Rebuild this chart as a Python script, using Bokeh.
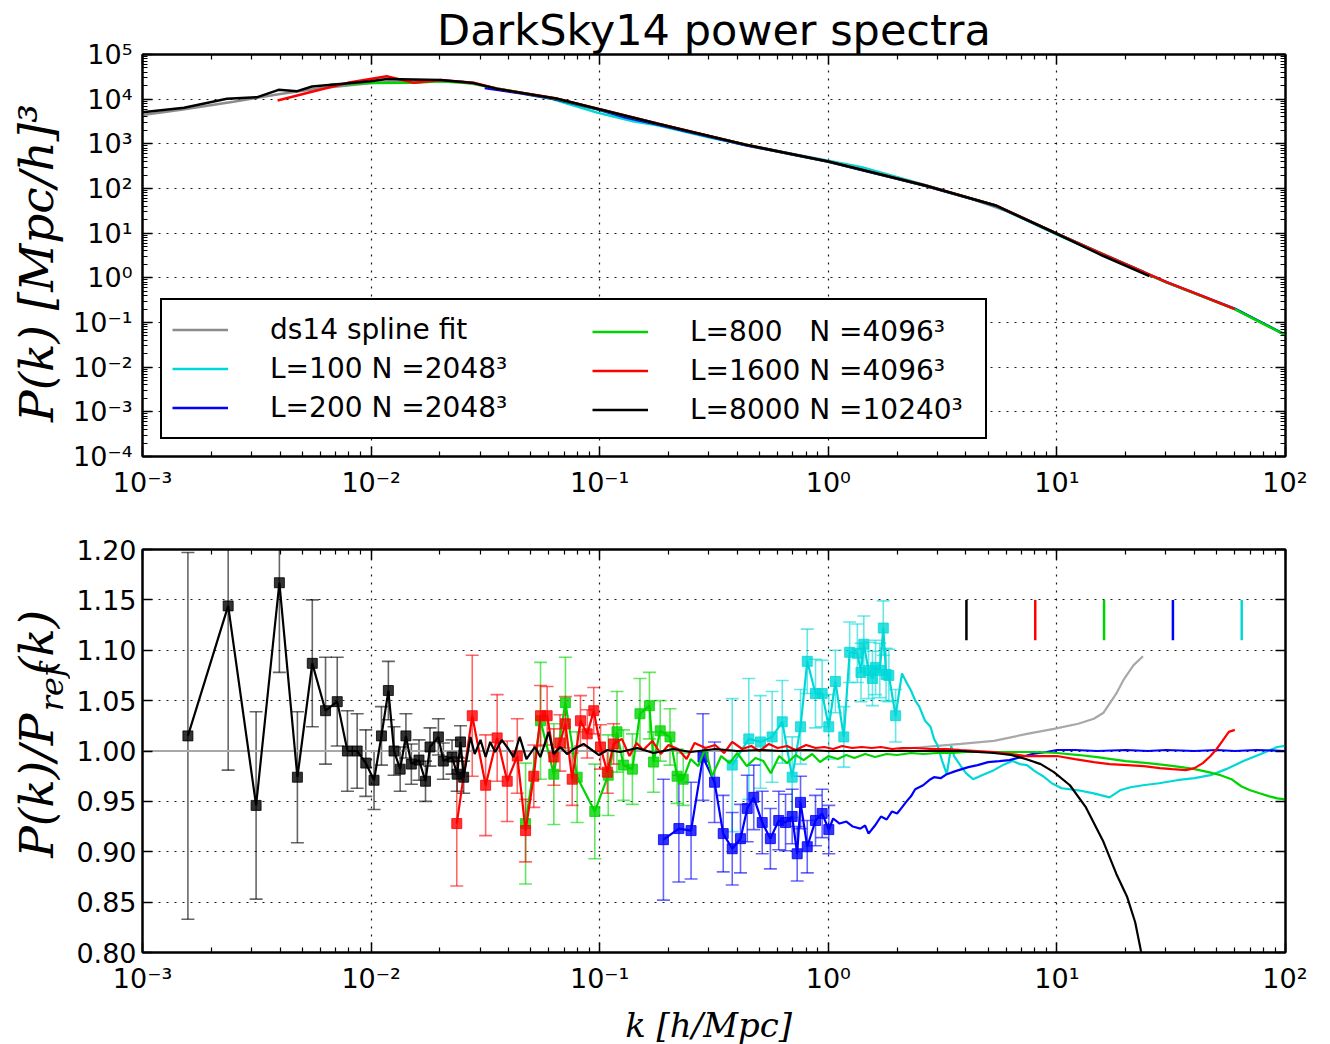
from math import pi
from bokeh.plotting import figure
from bokeh.layouts import column, row
from bokeh.core.properties import value
from bokeh.models import (FixedTicker, LogAxis, LinearAxis, CustomJSTickFormatter,
                          PrintfTickFormatter, Legend, LegendItem, Whisker, TeeHead,
                          ColumnDataSource, Range1d)
from bokeh.embed import file_html
from bokeh.resources import INLINE

# ------------------------------------------------------------------ top panel data (k [h/Mpc], P(k))
gry_k_top = [0.001, 0.0015, 0.0025, 0.004, 0.006, 0.01, 0.016, 0.025, 0.04, 0.063, 0.1, 0.16, 0.25,
             0.4, 0.63, 1.0, 1.6, 2.5, 4.0, 6.3, 10, 16, 24]
gry_P_top = [4400, 5900, 8800, 13000, 17500, 23000, 26000, 24500, 15500, 10500, 6000, 3300, 1850,
             1060, 650, 405, 225, 125, 65, 29, 9.7, 3.4, 1.35]

cyn_k_top = [0.063, 0.0975, 0.14, 0.179, 0.3, 0.435, 1.0, 1.4, 2.65, 5.4, 10, 15.8, 30.2, 60, 100]
cyn_P_top = [9800, 5000, 3200, 2600, 1400, 940, 420, 300, 120, 40.5, 9.3, 3.3, 0.78, 0.20, 0.053]

blu_k_top = [0.0314, 0.045, 0.0652, 0.0975, 0.13, 0.179, 0.435, 1.0, 2.65, 5.4, 10, 15.8, 30.2, 60, 100]
blu_P_top = [17800, 13500, 9700, 5900, 3900, 2700, 930, 395, 115, 41, 9.7, 3.4, 0.80, 0.205, 0.053]

grn_k_top = [0.0066, 0.0099, 0.0154, 0.0201, 0.0281, 0.0356, 0.0652, 0.0975, 0.179, 0.435, 1.0, 2.65,
             5.4, 10, 15.8, 30.2, 60, 100]
grn_P_top = [20900, 22900, 23400, 25100, 22400, 17400, 10000, 6000, 2800, 950, 400, 117,
             41.5, 9.7, 3.4, 0.79, 0.20, 0.052]

red_k_top = [0.0039, 0.0054, 0.0079, 0.0117, 0.0154, 0.0201, 0.0281, 0.0356, 0.0652, 0.0975, 0.179,
             0.435, 1.0, 2.65, 5.4, 10, 15.8, 30.2, 45, 60]
red_P_top = [9300, 14300, 23200, 32700, 23200, 26900, 23400, 17200, 10300, 6150, 2850,
             960, 405, 118, 42, 9.8, 3.4, 0.80, 0.36, 0.20]

blk_k_top = [0.001, 0.00152, 0.00234, 0.00318, 0.00394, 0.00475, 0.00552, 0.00993, 0.01175, 0.0201,
             0.0281, 0.0356, 0.0652, 0.0975, 0.179, 0.435, 1.0, 2.65, 5.4, 10, 15.8, 25.4]
blk_P_top = [5100, 6400, 10200, 11100, 16200, 15100, 19200, 25100, 28200, 26900,
             22900, 17000, 10200, 6080, 2810, 950, 403, 117, 41.7, 9.7, 3.16, 1.09]

# ------------------------------------------------------------------ bottom panel data (ratio P/P_ref)
# gray: spline fit
gry_k = [0.001, 2.0, 2.1, 3.0, 3.8, 5.3, 7.4, 9.7, 12.4, 14.5, 16.0, 17.0, 18.3, 19.5, 21.6, 23.8]
gry_r = [1.000, 1.000, 1.002, 1.005, 1.007, 1.010, 1.017, 1.022, 1.027, 1.032, 1.038, 1.047, 1.058,
         1.070, 1.085, 1.094]

# black: L=8000 (binned points with errors, then line)
blk_ek = [0.00158, 0.00237, 0.00314, 0.00397, 0.00476, 0.00553, 0.00632, 0.00711, 0.00788, 0.00869,
          0.00948, 0.0103, 0.0111, 0.0119, 0.0126, 0.0134, 0.0142, 0.0150, 0.0162, 0.0173, 0.0181,
          0.0197, 0.0207, 0.0226, 0.0238, 0.0246, 0.0254]
blk_er = [1.015, 1.144, 0.946, 1.167, 0.974, 1.087, 1.040, 1.049, 1.000, 1.000, 0.988, 0.971, 1.015,
          1.060, 1.000, 0.982, 1.015, 0.987, 0.991, 0.970, 1.004, 1.014, 0.990, 0.994, 0.977, 1.009,
          0.974]
blk_ee = [0.182, 0.163, 0.093, 0.089, 0.065, 0.063, 0.053, 0.044, 0.040, 0.037, 0.033, 0.029, 0.029,
          0.029, 0.024, 0.022, 0.022, 0.020, 0.020, 0.020, 0.019, 0.018, 0.018, 0.017, 0.017, 0.016,
          0.016]
blk_tk = [0.0272, 0.0284, 0.0301, 0.0317, 0.0332, 0.0349, 0.0373, 0.0399, 0.0420, 0.0447, 0.0478,
          0.0521, 0.0550, 0.0598, 0.0629, 0.0672, 0.0720, 0.0770, 0.0850, 0.0912, 0.0993, 0.108,
          0.123, 0.146, 0.172, 0.21, 0.25, 0.32, 0.4, 0.5, 0.63, 0.8, 1.0, 1.3, 1.6, 2.0, 2.5, 3.1,
          3.8, 4.5, 5.3, 6.3, 7.3, 8.5, 9.7, 11.4, 13.4, 15.9, 18.2, 20.3, 22.0, 23.3, 25.0]
blk_tr = [1.014, 0.997, 1.011, 0.994, 1.009, 0.999, 1.011, 1.002, 0.994, 1.014, 0.992,
          1.004, 0.994, 1.019, 0.997, 1.004, 0.997, 1.002, 1.007, 1.002, 0.996, 1.001,
          0.999, 1.003, 0.998, 1.002, 0.999, 1.002, 1.000, 1.001, 1.000, 1.001, 1.000, 1.000,
          1.000, 1.000, 1.000, 1.000, 1.000, 0.999, 0.998, 0.996, 0.992, 0.987, 0.979, 0.966,
          0.944, 0.911, 0.878, 0.855, 0.830, 0.802, 0.770]

# red: L=1600
red_ek = [0.0237, 0.0277, 0.0317, 0.0356, 0.0394, 0.0436, 0.0474, 0.0515, 0.0551, 0.0589, 0.0630,
          0.0670, 0.0708, 0.0758, 0.0824, 0.0882, 0.0942, 0.1008, 0.108, 0.115]
red_er = [0.928, 1.035, 0.966, 1.013, 0.970, 0.995, 0.921, 0.975, 1.035, 1.035, 0.994, 1.008, 1.027,
          0.972, 1.030, 1.017, 1.040, 1.004, 0.979, 1.007]
red_ee = [0.062, 0.060, 0.050, 0.043, 0.040, 0.037, 0.031, 0.031, 0.030, 0.029, 0.028, 0.028, 0.027,
          0.026, 0.025, 0.024, 0.023, 0.022, 0.021, 0.020]
red_tk = [0.125, 0.135, 0.145, 0.155, 0.17, 0.185, 0.2, 0.22, 0.24, 0.26, 0.29, 0.32, 0.35, 0.38,
          0.42, 0.46, 0.5, 0.55, 0.6, 0.66, 0.72, 0.8, 0.88, 0.96, 1.05, 1.15, 1.27, 1.4, 1.55, 1.7,
          1.9, 2.1, 2.4, 2.8, 3.3, 3.8, 4.5, 5.3, 6.3, 7.3, 8.5, 10, 12, 14.5, 17, 20.3, 24, 28.2,
          32, 36.6, 40, 43.5, 47, 50, 53, 56.5, 60]
red_tr = [1.012, 0.995, 1.008, 1.001, 1.010, 0.997, 1.006, 1.002, 0.992, 1.008, 1.003, 1.006, 0.998,
          1.009, 1.002, 1.005, 1.000, 1.007, 1.003, 1.005, 1.001, 1.006, 1.003, 1.004, 1.002, 1.005,
          1.003, 1.004, 1.003, 1.004, 1.002, 1.003, 1.003, 1.002, 1.002, 1.001, 1.000, 0.999, 0.997,
          0.995, 0.995, 0.995, 0.992, 0.989, 0.987, 0.986, 0.985, 0.983, 0.982, 0.981, 0.983, 0.988,
          0.995, 1.002, 1.010, 1.019, 1.021]

# green: L=800
grn_ek = [0.0474, 0.0551, 0.0630, 0.0708, 0.0797, 0.0952, 0.109, 0.119, 0.127, 0.139, 0.150, 0.165,
          0.172, 0.184, 0.203, 0.218, 0.232]
grn_er = [0.928, 1.030, 0.977, 1.048, 0.974, 0.940, 0.976, 1.019, 0.986, 0.982, 1.037, 1.045, 0.989,
          1.020, 1.014, 0.975, 0.972]
grn_ee = [0.060, 0.058, 0.050, 0.045, 0.045, 0.047, 0.040, 0.040, 0.035, 0.035, 0.035, 0.033, 0.030,
          0.030, 0.028, 0.027, 0.026]
grn_tk = [0.25, 0.27, 0.29, 0.31, 0.34, 0.37, 0.40, 0.44, 0.48, 0.52, 0.56, 0.61, 0.66, 0.72, 0.78,
          0.85, 0.92, 1.0, 1.1, 1.2, 1.3, 1.45, 1.6, 1.8, 2.0, 2.3, 2.6, 3.0, 3.5, 4.0, 5, 6.3, 8, 10,
          12.5, 15, 20, 25, 30, 35, 40, 46, 52, 58, 64, 70, 77, 85, 92, 100]
grn_tr = [0.992, 0.985, 1.003, 0.975, 0.995, 0.988, 0.998, 0.985, 0.993, 0.990, 0.978, 0.995, 0.988,
          0.996, 0.991, 0.997, 0.989, 0.995, 0.992, 0.996, 0.993, 0.997, 0.994, 0.997, 0.996, 0.998,
          0.997, 0.998, 0.998, 0.999, 0.999, 0.999, 0.999, 0.998, 0.996, 0.994, 0.990, 0.988, 0.986,
          0.984, 0.982, 0.979, 0.976, 0.972, 0.965, 0.961, 0.958, 0.955, 0.953, 0.952]

# blue: L=200
blu_ek = [0.190, 0.222, 0.251, 0.283, 0.318, 0.347, 0.380, 0.413, 0.442, 0.472, 0.514, 0.558, 0.607,
          0.650, 0.695, 0.731, 0.756, 0.809, 0.879, 0.940, 1.005]
blu_er = [0.912, 0.923, 0.921, 0.994, 0.969, 0.918, 0.903, 0.913, 0.943, 0.954, 0.929, 0.913, 0.931,
          0.929, 0.935, 0.898, 0.949, 0.905, 0.931, 0.938, 0.922]
blu_ee = [0.060, 0.053, 0.048, 0.043, 0.040, 0.038, 0.036, 0.034, 0.033, 0.032, 0.031, 0.030, 0.029,
          0.028, 0.027, 0.027, 0.026, 0.026, 0.025, 0.024, 0.024]
blu_tk = [1.05, 1.12, 1.2, 1.28, 1.38, 1.45, 1.5, 1.6, 1.7, 1.8, 1.9, 2.0, 2.1, 2.2, 2.3, 2.4, 2.6,
          2.8, 2.9, 3.1, 3.3, 3.6, 4.1, 4.5, 5.0, 5.6, 6.2, 7.0, 7.8, 9, 10, 12, 15, 20, 25, 30, 40,
          50, 60, 75, 100]
blu_tr = [0.933, 0.928, 0.930, 0.925, 0.923, 0.926, 0.918, 0.926, 0.935, 0.932, 0.940, 0.938, 0.944,
          0.950, 0.955, 0.962, 0.966, 0.972, 0.974, 0.973, 0.977, 0.980, 0.984, 0.986, 0.989, 0.990,
          0.991, 0.994, 0.997, 0.999, 1.001, 1.001, 1.000, 1.001, 1.000, 1.001, 1.000, 1.001, 1.000,
          1.001, 1.000]

# cyan: L=100
cyn_ek = [0.380, 0.449, 0.505, 0.568, 0.629, 0.695, 0.756, 0.809, 0.879, 0.940, 1.005, 1.074, 1.169,
          1.24, 1.34, 1.39, 1.43, 1.50, 1.56, 1.61, 1.68, 1.74, 1.79, 1.84, 1.97]
cyn_er = [0.986, 1.012, 1.009, 1.014, 1.029, 0.974, 1.024, 1.089, 1.057, 1.057, 1.024, 1.069, 1.014,
          1.098, 1.097, 1.078, 1.106, 1.080, 1.072, 1.083, 1.080, 1.122, 1.076, 1.075, 1.035]
cyn_ee = [0.066, 0.060, 0.046, 0.045, 0.041, 0.040, 0.037, 0.032, 0.034, 0.033, 0.032, 0.031, 0.030,
          0.030, 0.029, 0.029, 0.028, 0.028, 0.027, 0.027, 0.027, 0.027, 0.026, 0.026, 0.026]
cyn_tk = [2.1, 2.2, 2.3, 2.4, 2.5, 2.65, 2.8, 2.9, 3.0, 3.15, 3.3, 3.45, 3.55, 3.8, 4.0, 4.3, 4.7,
          5.3, 5.8, 6.4, 6.9, 7.4, 8.0, 8.7, 9.5, 10.5, 12.4, 14.5, 17, 18.9, 21, 23.8, 28, 33.5, 40,
          47, 55, 65.5, 78, 92, 100]
cyn_tr = [1.077, 1.068, 1.060, 1.050, 1.044, 1.030, 1.024, 1.012, 1.006, 0.990, 0.977, 1.005, 0.995,
          0.985, 0.978, 0.972, 0.976, 0.981, 0.986, 0.990, 0.987, 0.986, 0.980, 0.975, 0.968, 0.963,
          0.961, 0.958, 0.954, 0.961, 0.964, 0.966, 0.968, 0.971, 0.973, 0.976, 0.982, 0.990, 0.997,
          1.004, 1.005]

# Nyquist markers (k_Nyq for each run)
kny_k = [4.02, 8.04, 16.08, 32.17, 64.34]

legend_labels = ["ds14 spline fit", "L=100 N =2048³", "L=200 N =2048³",
                 "L=800   N =4096³", "L=1600 N =4096³", "L=8000 N =10240³"]

x_major = [1e-3, 1e-2, 1e-1, 1e0, 1e1, 1e2]
y_major_top = [10.0 ** e for e in range(-4, 6)]
y_ticks_bot = [0.80, 0.85, 0.90, 0.95, 1.00, 1.05, 1.10, 1.15, 1.20]

# ------------------------------------------------------------------ styling
GRAY, CYAN, BLUE, GREEN, RED, BLACK = "#8c8c8c", "#00d8d8", "#0000ff", "#00d400", "#ff0000", "#000000"
FONT = "DejaVu Sans"
SERIF = "DejaVu Serif"

def minor_of(majors):
    out = []
    for m in majors[:-1]:
        out += [m * j for j in range(2, 10)]
    return out

log_fmt_code = """
const e = Math.round(Math.log10(tick));
const m = {'-':'⁻','0':'⁰','1':'¹','2':'²','3':'³','4':'⁴','5':'⁵','6':'⁶','7':'⁷','8':'⁸','9':'⁹'};
return '10' + String(e).split('').map(c => m[c]).join('');
"""

def log_fmt():
    return CustomJSTickFormatter(code=log_fmt_code)

def blank_fmt():
    return CustomJSTickFormatter(code="return ''")

def style_axis(ax, labels=True):
    ax.axis_line_width = 2
    ax.axis_line_color = "black"
    ax.major_tick_in = 10
    ax.major_tick_out = 0
    ax.minor_tick_in = 5
    ax.minor_tick_out = 0
    ax.major_tick_line_width = 1.5
    ax.minor_tick_line_width = 1.2
    ax.major_tick_line_color = "black"
    ax.minor_tick_line_color = "black"
    ax.major_label_text_font = FONT
    ax.major_label_text_color = "black"
    ax.axis_label_text_color = "black"
    if labels:
        ax.major_label_text_font_size = "27px"
    else:
        ax.major_label_text_font_size = "0px"
        ax.major_label_standoff = 0

def style_fig(p):
    p.outline_line_color = "black"
    p.outline_line_width = 2
    p.background_fill_color = "white"
    p.border_fill_color = "white"
    for g in (p.xgrid[0], p.ygrid[0]):
        g.grid_line_color = "black"
        g.grid_line_dash = "2 6"
        g.grid_line_width = 1.2
        g.grid_line_alpha = 0.9

xt = FixedTicker(ticks=x_major, minor_ticks=minor_of(x_major))

FW = 1143          # frame width
LEFT = 142         # left border (frame left edge on the page)
RIGHT = 22

# ------------------------------------------------------------------ top figure
p1 = figure(frame_width=FW, frame_height=402, x_axis_type="log", y_axis_type="log",
            x_range=Range1d(1e-3, 1e2), y_range=Range1d(1e-4, 1e5),
            output_backend="svg", toolbar_location=None,
            min_border_left=LEFT, min_border_right=RIGHT, min_border_top=54, min_border_bottom=48)
p1.title.text = "DarkSky14 power spectra"
p1.title.align = "center"
p1.title.text_font = FONT
p1.title.text_font_size = "43px"
p1.title.text_font_style = "normal"
p1.title.text_color = "black"
p1.title.standoff = 0

yt1 = FixedTicker(ticks=y_major_top, minor_ticks=minor_of(y_major_top))
p1.xaxis.ticker = xt
p1.yaxis.ticker = yt1
p1.xgrid.ticker = xt
p1.ygrid.ticker = yt1
p1.xaxis.formatter = log_fmt()
p1.yaxis.formatter = log_fmt()
for ax in p1.xaxis:
    style_axis(ax)
    ax.major_label_standoff = 10
for ax in p1.yaxis:
    style_axis(ax)
    ax.major_label_standoff = 10
    ax.axis_label = "P(k)  [Mpc/h]³"
    ax.axis_label_text_font = SERIF
    ax.axis_label_text_font_style = "italic"
    ax.axis_label_text_font_size = "47px"
    ax.axis_label_standoff = 6
ax_top1 = LogAxis(ticker=xt, formatter=blank_fmt())
style_axis(ax_top1, labels=False)
p1.add_layout(ax_top1, "above")
ax_right1 = LogAxis(ticker=yt1, formatter=blank_fmt())
style_axis(ax_right1, labels=False)
p1.add_layout(ax_right1, "right")
style_fig(p1)

r_gray = p1.line(gry_k_top, gry_P_top, line_color=GRAY, line_width=2.5)
r_cyan = p1.line(cyn_k_top, cyn_P_top, line_color=CYAN, line_width=2.5)
r_blue = p1.line(blu_k_top, blu_P_top, line_color=BLUE, line_width=2.5)
r_green = p1.line(grn_k_top, grn_P_top, line_color=GREEN, line_width=2.5)
r_red = p1.line(red_k_top, red_P_top, line_color=RED, line_width=2.5)
r_black = p1.line(blk_k_top, blk_P_top, line_color=BLACK, line_width=2.5)

def make_legend(items, loc, boxed):
    lg = Legend(items=items, location=loc, padding=10, spacing=0, margin=0,
                glyph_width=56, glyph_height=39, label_height=39, label_standoff=42,
                label_text_font=FONT, label_text_font_size="28px", label_text_color="black")
    if boxed:
        lg.border_line_color = "black"
        lg.border_line_width = 2
        lg.border_line_alpha = 1.0
        lg.background_fill_color = "white"
        lg.background_fill_alpha = 1.0
        lg.label_width = 705
    else:
        lg.border_line_alpha = 0
        lg.background_fill_alpha = 0
    return lg

leg1 = make_legend([LegendItem(label=legend_labels[0], renderers=[r_gray]),
                    LegendItem(label=legend_labels[1], renderers=[r_cyan]),
                    LegendItem(label=legend_labels[2], renderers=[r_blue])], (18, 17), True)
leg2 = make_legend([LegendItem(label=legend_labels[3], renderers=[r_green]),
                    LegendItem(label=legend_labels[4], renderers=[r_red]),
                    LegendItem(label=legend_labels[5], renderers=[r_black])], (440, 17), False)
p1.add_layout(leg1)
p1.add_layout(leg2)

# ------------------------------------------------------------------ bottom figure
LABW = 70          # width of the strip that holds the rotated y label
B_TOP, B_FH, B_BOT = 45, 403, 88
H2 = B_TOP + B_FH + B_BOT

p2 = figure(frame_width=FW, frame_height=B_FH, x_axis_type="log",
            x_range=Range1d(1e-3, 1e2), y_range=Range1d(0.8, 1.2),
            output_backend="svg", toolbar_location=None,
            min_border_left=LEFT - LABW, min_border_right=RIGHT,
            min_border_top=B_TOP, min_border_bottom=B_BOT)
yt2 = FixedTicker(ticks=y_ticks_bot)
p2.xaxis.ticker = xt
p2.yaxis.ticker = yt2
p2.xgrid.ticker = xt
p2.ygrid.ticker = yt2
p2.xaxis.formatter = log_fmt()
p2.yaxis.formatter = PrintfTickFormatter(format="%.2f")
for ax in p2.xaxis:
    style_axis(ax)
    ax.major_label_standoff = 10
    ax.axis_label = "k  [h/Mpc]"
    ax.axis_label_text_font = SERIF
    ax.axis_label_text_font_style = "italic"
    ax.axis_label_text_font_size = "34px"
    ax.axis_label_standoff = 8
for ax in p2.yaxis:
    style_axis(ax)
    ax.major_label_standoff = 6
ax_top2 = LogAxis(ticker=xt, formatter=blank_fmt())
style_axis(ax_top2, labels=False)
p2.add_layout(ax_top2, "above")
ax_right2 = LinearAxis(ticker=yt2, formatter=blank_fmt())
style_axis(ax_right2, labels=False)
p2.add_layout(ax_right2, "right")
style_fig(p2)

def series(p, color, ek, er, ee, tk, tr, lw=2.2):
    up = [r + e for r, e in zip(er, ee)]
    lo = [r - e for r, e in zip(er, ee)]
    src = ColumnDataSource(dict(k=ek, r=er, up=up, lo=lo))
    p.add_layout(Whisker(source=src, base="k", upper="up", lower="lo", dimension="height",
                         line_color=color, line_alpha=0.6, line_width=1.6,
                         upper_head=TeeHead(size=13, line_color=color, line_alpha=0.6, line_width=1.6),
                         lower_head=TeeHead(size=13, line_color=color, line_alpha=0.6, line_width=1.6)))
    p.line(list(ek) + list(tk), list(er) + list(tr), line_color=color, line_width=lw)
    p.scatter("k", "r", source=src, marker="square", size=10, fill_color=color, line_color=color,
              fill_alpha=0.8, line_alpha=0.8)

p2.line(gry_k, gry_r, line_color="#a8a8a8", line_width=2.2)
series(p2, CYAN, cyn_ek, cyn_er, cyn_ee, cyn_tk, cyn_tr)
series(p2, BLUE, blu_ek, blu_er, blu_ee, blu_tk, blu_tr)
series(p2, GREEN, grn_ek, grn_er, grn_ee, grn_tk, grn_tr)
series(p2, RED, red_ek, red_er, red_ee, red_tk, red_tr)
series(p2, BLACK, blk_ek, blk_er, blk_ee, blk_tk, blk_tr)

p2.segment(x0="k", y0=1.11, x1="k", y1=1.15, line_color="c", line_width=2.5,
           source=ColumnDataSource(dict(k=kny_k, c=[BLACK, RED, GREEN, BLUE, CYAN])))

# strip to the left of the bottom panel holding the rotated label P(k)/P_ref(k)
lab = figure(width=LABW, height=H2, x_range=Range1d(0, LABW), y_range=Range1d(0, H2),
             x_axis_location=None, y_axis_location=None, min_border=0,
             output_backend="svg", toolbar_location=None)
lab.outline_line_color = None
lab.grid.visible = False
lab.text(x=[36], y=[314], text=["P(k)/P"], angle=pi / 2, text_align="right",
         text_baseline="middle", text_font=value(SERIF), text_font_style="italic",
         text_font_size="47px", text_color="black")
lab.text(x=[51], y=[317], text=["ref"], angle=pi / 2, text_align="left",
         text_baseline="middle", text_font=value(SERIF), text_font_style="italic",
         text_font_size="32px", text_color="black")
lab.text(x=[36], y=[366], text=["(k)"], angle=pi / 2, text_align="left",
         text_baseline="middle", text_font=value(SERIF), text_font_style="italic",
         text_font_size="47px", text_color="black")

layout = column(p1, row(lab, p2, spacing=0), spacing=0)
open("out.html", "w").write(file_html(layout, INLINE, title="DarkSky14 power spectra"))
